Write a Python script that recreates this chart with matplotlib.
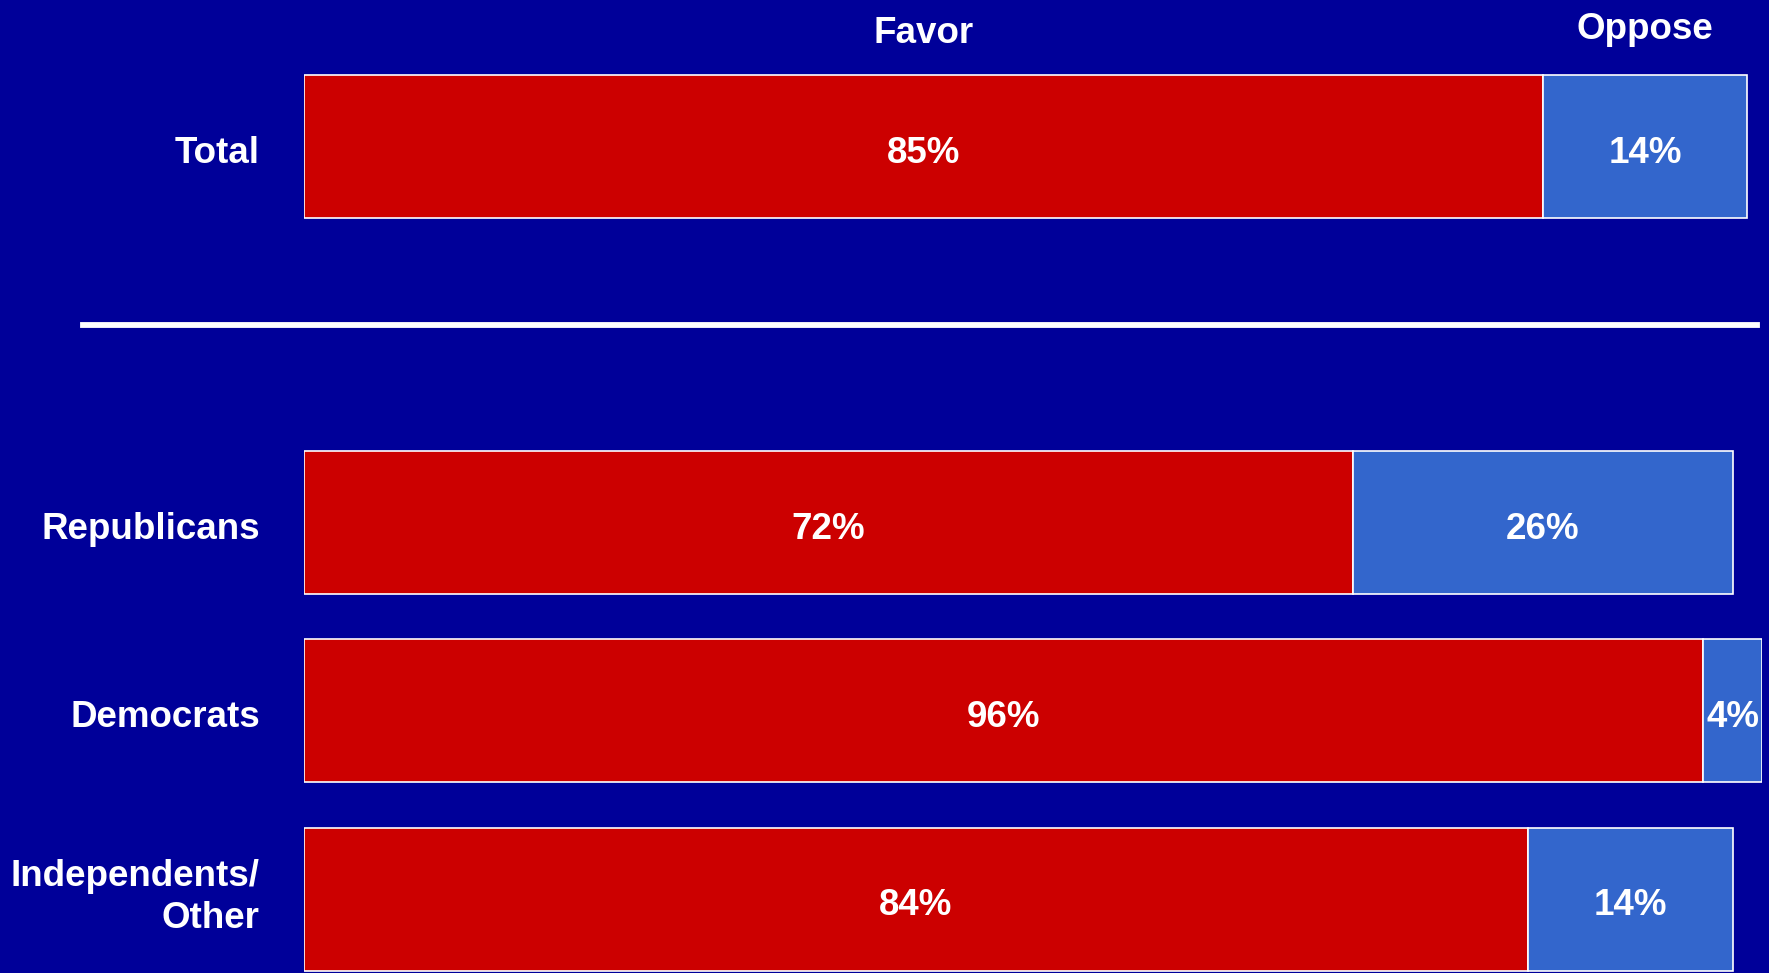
import numpy as np
import matplotlib.pyplot as plt

plt.rcParams['font.family'] = ['Liberation Sans', 'DejaVu Sans']
plt.rcParams['font.weight'] = 'bold'

# data
groups = ['Total', 'Republicans', 'Democrats', 'Independents/\nOther']
favor = [85, 72, 96, 84]
oppose = [14, 26, 4, 14]
# slot 3 is left empty for the divider line
ypos = [4, 2, 1, 0]

bg = '#000099'
red = '#CC0000'
blue = '#3366CC'
fs = 26.5
dy = 0.035  # nudge text down a bit, va=center counts the descent

fig = plt.figure(figsize=(17.69, 9.73), dpi=100, facecolor=bg)
ax = fig.add_axes([0.1716, 0.0, 0.8243, 1.0])
ax.set_facecolor(bg)

ax.barh(ypos, favor, height=0.76, color=red, edgecolor='white', linewidth=1.2)
ax.barh(ypos, oppose, left=favor, height=0.76, color=blue, edgecolor='white', linewidth=1.2)

for y, f, o, g in zip(ypos, favor, oppose, groups):
    ax.text(f / 2, y - dy, f'{f}%', ha='center', va='center', color='white', fontsize=fs)
    ax.text(f + o / 2, y - dy, f'{o}%', ha='center', va='center', color='white', fontsize=fs)
    if '\n' in g:
        ax.text(-3, y + 0.01, g, ha='right', va='center', color='white',
                fontsize=fs, multialignment='right', linespacing=1.25)
    else:
        ax.text(-3, y - dy, g, ha='right', va='center', color='white', fontsize=fs)

# column headers over the total bar
ax.text(favor[0] / 2, 4.60, 'Favor', ha='center', va='center', color='white', fontsize=fs)
ax.text(favor[0] + oppose[0] / 2, 4.62, 'Oppose', ha='center', va='center', color='white', fontsize=fs)

# divider between total and party breakdown
ax.axhline(3.05, xmin=-0.151, xmax=0.997, color='white', linewidth=4.2, clip_on=False)

ax.set_xlim(0, 100)
ax.set_ylim(-0.393, 4.779)
ax.axis('off')

fig.savefig('out.png', dpi=100, facecolor=bg)
